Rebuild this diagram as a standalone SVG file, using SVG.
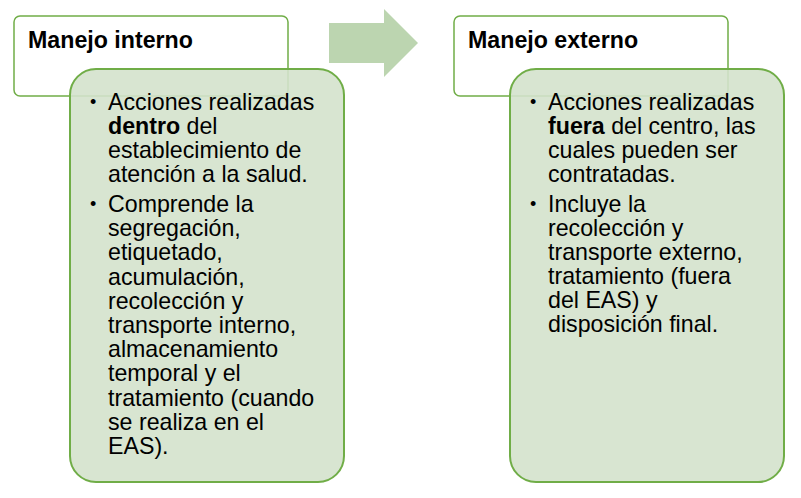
<svg xmlns="http://www.w3.org/2000/svg" width="801" height="498" viewBox="0 0 801 498">
<style>
.hdr{fill:#FFFFFF;stroke:#70AD47;stroke-width:1.5}
.body{fill:#D4E2CC;fill-opacity:0.9;stroke:#70AD47;stroke-width:2}
.arrow{fill:#BCD5B0}
text{font-family:"Liberation Sans",Arial,sans-serif;fill:#000000}
.h{font-size:23.2px;font-weight:bold}
.t{font-size:23.2px}
.d{font-size:18px}
.b{font-weight:bold}
</style>
<rect width="801" height="498" fill="#FFFFFF"/>
<g id="connectors">
<polygon class="arrow" points="329,23 384,23 384,9 418,43 384,77 384,63 329,63"/>
</g>
<g id="interno-header">
<rect class="hdr" x="14" y="16" width="274" height="80" rx="6"/>
<text class="h" x="28" y="48">Manejo interno</text>
</g>
<g id="interno-body">
<rect class="body" x="70" y="69" width="274" height="413" rx="26"/>
<text class="t d" x="90" y="108">•</text>
<text class="t" x="108" y="110">Acciones realizadas</text>
<text class="t" x="108" y="134"><tspan class="b">dentro</tspan> del</text>
<text class="t" x="108" y="158">establecimiento de</text>
<text class="t" x="108" y="182">atención a la salud.</text>
<text class="t d" x="90" y="210">•</text>
<text class="t" x="108" y="212">Comprende la</text>
<text class="t" x="108" y="236.2">segregación,</text>
<text class="t" x="108" y="260.4">etiquetado,</text>
<text class="t" x="108" y="284.6">acumulación,</text>
<text class="t" x="108" y="308.8">recolección y</text>
<text class="t" x="108" y="333">transporte interno,</text>
<text class="t" x="108" y="357.2">almacenamiento</text>
<text class="t" x="108" y="381.4">temporal y el</text>
<text class="t" x="108" y="405.6">tratamiento (cuando</text>
<text class="t" x="108" y="429.8">se realiza en el</text>
<text class="t" x="108" y="454">EAS).</text>
</g>
<g id="externo-header">
<rect class="hdr" x="454" y="16" width="274" height="80" rx="6"/>
<text class="h" x="468" y="48">Manejo externo</text>
</g>
<g id="externo-body">
<rect class="body" x="510" y="69" width="274" height="413" rx="26"/>
<text class="t d" x="530" y="108">•</text>
<text class="t" x="548" y="110">Acciones realizadas</text>
<text class="t" x="548" y="134"><tspan class="b">fuera</tspan> del centro, las</text>
<text class="t" x="548" y="158">cuales pueden ser</text>
<text class="t" x="548" y="182">contratadas.</text>
<text class="t d" x="530" y="210">•</text>
<text class="t" x="548" y="212">Incluye la</text>
<text class="t" x="548" y="236">recolección y</text>
<text class="t" x="548" y="260">transporte externo,</text>
<text class="t" x="548" y="284">tratamiento (fuera</text>
<text class="t" x="548" y="308">del EAS) y</text>
<text class="t" x="548" y="332">disposición final.</text>
</g>
</svg>
